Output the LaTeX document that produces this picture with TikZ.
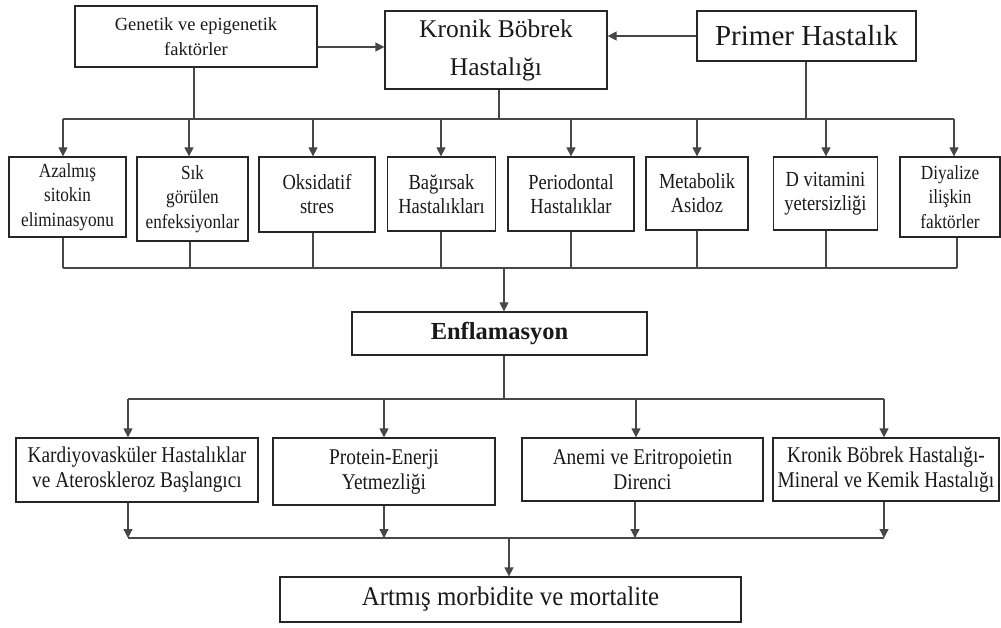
\documentclass[tikz,border=0pt]{standalone}
\usepackage{fontspec}
\setmainfont{Liberation Serif}
\newfontfamily\cfA[FakeStretch=0.86]{Liberation Serif}
\newfontfamily\cfB[FakeStretch=0.92]{Liberation Serif}
\usetikzlibrary{arrows.meta}
\begin{document}
\begin{tikzpicture}[x=1pt,y=-1pt,
  box/.style={draw=black!85, line width=1.3pt, rectangle, inner sep=0pt, align=center, text=black!90},
  ln/.style={draw=black!72, line width=1.3pt},
  arr/.style={ln, -{Triangle[width=9pt,length=9pt]}},
  fA/.style={font=\cfA\fontsize{20}{24.5}\selectfont},
  fB/.style={font=\cfA\fontsize{21.5}{24}\selectfont},
  fC/.style={font=\cfA\fontsize{22.5}{25}\selectfont},
]
\useasboundingbox (0,0) rectangle (1001,628);

% top row
\node[box, minimum width=242pt, minimum height=61pt, font=\fontsize{18.5}{25}\selectfont] (gen) at (196,36.5) {Genetik ve epigenetik\\faktörler};
\node[box, minimum width=222pt, minimum height=78pt, font=\fontsize{25.5}{38}\selectfont] (kbh) at (496,50) {Kronik Böbrek\\Hastalığı};
\node[box, minimum width=219pt, minimum height=50pt, font=\fontsize{29}{34}\selectfont] (pri) at (806.5,36) {Primer Hastalık};

% second row
\node[box, fA, minimum width=117pt, minimum height=80pt] (a1) at (67.5,197) {Azalmış\\sitokin\\eliminasyonu};
\node[box, fA, minimum width=111pt, minimum height=84pt] (a2) at (192.5,199) {Sık\\görülen\\enfeksiyonlar};
\node[box, fB, minimum width=116pt, minimum height=75pt] (a3) at (317,194.5) {Oksidatif\\stres};
\node[box, fB, minimum width=108pt, minimum height=74pt] (a4) at (441.5,194) {Bağırsak\\Hastalıkları};
\node[box, fB, minimum width=126pt, minimum height=74pt] (a5) at (571,194) {Periodontal\\Hastalıklar};
\node[box, fB, minimum width=102pt, minimum height=73pt] (a6) at (697,193.5) {Metabolik\\Asidoz};
\node[box, fB, minimum width=104pt, minimum height=73pt] (a7) at (825.5,193.5) {D vitamini\\yetersizliği};
\node[box, fA, minimum width=100pt, minimum height=80pt] (a8) at (950,197) {Diyalize\\ilişkin\\faktörler};

% Enflamasyon
\node[box, minimum width=295pt, minimum height=43pt, font=\fontsize{24.5}{28}\selectfont\bfseries] (enf) at (499.5,333.5) {Enflamasyon};

% third row
\node[box, fC, minimum width=242pt, minimum height=64pt] (c1) at (137,470) {Kardiyovasküler Hastalıklar\\ve Ateroskleroz Başlangıcı};
\node[box, fC, minimum width=222pt, minimum height=67pt] (c2) at (384,471.5) {Protein-Enerji\\Yetmezliği};
\node[box, fC, minimum width=241pt, minimum height=63pt] (c3) at (642.5,469.5) {Anemi ve Eritropoietin\\Direnci};
\node[box, fC, minimum width=226pt, minimum height=63pt] (c4) at (886,469.5) {Kronik Böbrek Hastalığı-\\Mineral ve Kemik Hastalığı};

% bottom
\node[box, minimum width=461pt, minimum height=45pt, font=\cfB\fontsize{27}{30}\selectfont] (art) at (510.5,599.5) {Artmış morbidite ve mortalite};

% top arrows
\coordinate (ya) at (0,47);
\draw[arr] (gen.east |- ya) -- (kbh.west |- ya);
\draw[arr] (pri.west) -- (kbh.east |- pri.west);

% bus 1
\coordinate (t1) at (63,119);
\coordinate (t2) at (189,119);
\coordinate (t3) at (313,119);
\coordinate (t4) at (441,119);
\coordinate (t5) at (571,119);
\coordinate (t6) at (697,119);
\coordinate (t7) at (826,119);
\coordinate (t8) at (954,119);
\coordinate (tg) at (194,119);
\coordinate (tk) at (499,119);
\coordinate (tp) at (806,119);
\draw[ln] (gen.south -| tg) -- (tg);
\draw[ln] (kbh.south -| tk) -- (tk);
\draw[ln] (pri.south -| tp) -- (tp);
\draw[ln] (t1) -- (t8);
\foreach \i in {1,...,8} {
  \draw[arr] (t\i) -- (t\i |- a\i.north);
}

% bus 2
\coordinate (u1) at (63,268);
\coordinate (u2) at (190,268);
\coordinate (u3) at (313,268);
\coordinate (u4) at (441,268);
\coordinate (u5) at (571,268);
\coordinate (u6) at (697,268);
\coordinate (u7) at (826,268);
\coordinate (u8) at (957,268);
\foreach \i in {1,...,8} {
  \draw[ln] (a\i.south -| u\i) -- (u\i);
}
\draw[ln] (u1) -- (u8);
\coordinate (ue) at (504,268);
\draw[arr] (ue) -- (ue |- enf.north);

% bus 3
\coordinate (v0) at (504,399);
\coordinate (v1) at (128,399);
\coordinate (v2) at (384,399);
\coordinate (v3) at (636,399);
\coordinate (v4) at (884,399);
\draw[ln] (enf.south -| v0) -- (v0);
\draw[ln] (v1) -- (v4);
\foreach \i in {1,...,4} {
  \draw[arr] (v\i) -- (v\i |- c\i.north);
}

% bus 4
\coordinate (w1) at (128,538);
\coordinate (w2) at (384,538);
\coordinate (w3) at (635,538);
\coordinate (w4) at (884,538);
\foreach \i in {1,...,4} {
  \draw[arr] (c\i.south -| w\i) -- (w\i);
}
\draw[ln] (w1) -- (w4);
\coordinate (w0) at (509,538);
\draw[arr] (w0) -- (w0 |- art.north);
\end{tikzpicture}
\end{document}
